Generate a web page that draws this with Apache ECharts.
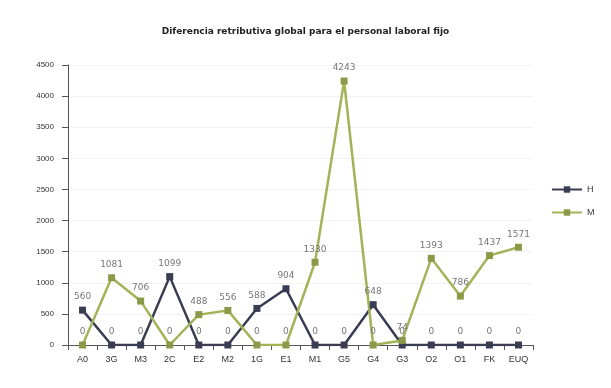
<!DOCTYPE html>
<html>
<head>
<meta charset="utf-8">
<script src="https://cdn.jsdelivr.net/npm/echarts@6/dist/echarts.min.js"></script>
<style>
  html, body { margin: 0; padding: 0; background: #fff; }
  #chart { width: 611px; height: 388px; }
</style>
</head>
<body>
<div id="chart"></div>
<script>
const categories = ["A0", "3G", "M3", "2C", "E2", "M2", "1G", "E1", "M1", "G5", "G4", "G3", "O2", "O1", "FK", "EUQ"]
const seriesH = [560, 0, 0, 1099, 0, 0, 588, 904, 0, 0, 648, 0, 0, 0, 0, 0]
const seriesM = [0, 1081, 706, 0, 488, 556, 0, 0, 1330, 4243, 0, 74, 1393, 786, 1437, 1571]
const yTicks = { min: 0, max: 4500, interval: 500 }

const chart = echarts.init(document.getElementById("chart"))

const labelStyle = {
    show: true,
    position: "top",
    fontSize: 9,
    color: "#777",
    fontFamily: "DejaVu Sans"
}

chart.setOption({
    animation: false,
    title: {
        text: "Diferencia retributiva global para el personal laboral fijo",
        left: "center",
        top: 22,
        textStyle: {
            fontSize: 9,
            fontWeight: "bold",
            color: "#222",
            fontFamily: "DejaVu Sans"
        }
    },
    legend: {
        orient: "vertical",
        left: 546,
        top: 180,
        itemGap: 14,
        itemWidth: 30,
        itemHeight: 8,
        textStyle: { fontSize: 9, color: "#333" },
        data: ["H", "M"]
    },
    grid: {
        left: 68,
        right: 78,
        top: 65,
        bottom: 43
    },
    xAxis: {
        type: "category",
        data: categories,
        axisLine: { lineStyle: { color: "#555" } },
        axisTick: { show: true, lineStyle: { color: "#555" } },
        axisLabel: { fontSize: 9, color: "#333", margin: 10 }
    },
    yAxis: {
        type: "value",
        min: yTicks.min,
        max: yTicks.max,
        interval: yTicks.interval,
        axisLine: { show: true, lineStyle: { color: "#555" } },
        axisTick: { show: true, length: 6, lineStyle: { color: "#555" } },
        axisLabel: { fontSize: 8, color: "#333", margin: 14, formatter: v => String(v) },
        splitLine: { show: true, lineStyle: { color: "#f2f2f2" } }
    },
    series: [
        {
            name: "H",
            type: "line",
            data: seriesH,
            symbol: "rect",
            symbolSize: 7,
            color: "#3a3d52",
            lineStyle: { width: 2.5, color: "#3a3d52" },
            label: labelStyle
        },
        {
            name: "M",
            type: "line",
            data: seriesM,
            symbol: "rect",
            symbolSize: 7,
            color: "#8a9a48",
            lineStyle: { width: 2.5, color: "#a3b358" },
            label: labelStyle
        }
    ]
})
</script>
</body>
</html>
